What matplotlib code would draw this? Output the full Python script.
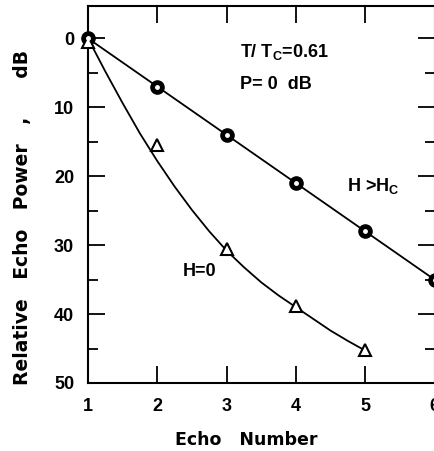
import matplotlib.pyplot as plt
from matplotlib.ticker import MultipleLocator

plt.rcParams['font.family'] = ['Liberation Sans', 'DejaVu Sans']
plt.rcParams['font.weight'] = 'bold'
plt.rcParams['mathtext.fontset'] = 'custom'
plt.rcParams['mathtext.rm'] = 'Liberation Sans:bold'
plt.rcParams['mathtext.bf'] = 'Liberation Sans:bold'

# data
echo_n = [1, 2, 3, 4, 5, 6]
power_hc = [0, 7, 14, 21, 28, 35]          # H > Hc, circles

tri_n = [1, 2, 3, 4, 5]
power_h0 = [0.5, 15.5, 30.6, 38.8, 45.2]    # H = 0, triangles

# hand-drawn curve through the H = 0 points (traced)
curve_n = [1.0, 1.25, 1.5, 1.75, 2.0, 2.25, 2.5, 2.75, 3.0, 3.25, 3.5, 3.75, 4.0, 4.25, 4.5, 4.75, 5.0]
curve_p = [0, 4.8, 9.4, 13.8, 17.8, 21.5, 24.9, 28.0, 30.8, 33.2, 35.4, 37.3, 39.0, 40.7, 42.4, 43.9, 45.3]

fig = plt.figure(figsize=(4.35, 4.51), dpi=100)
ax = fig.add_axes([0.2023, 0.1508, 0.7966, 0.8359])

ax.plot(echo_n, power_hc, color='black', lw=1.3, zorder=2)
ax.plot(echo_n, power_hc, 'o', ms=9.5, mfc='black', mec='black', zorder=3, clip_on=False)
ax.plot(echo_n, power_hc, 'o', ms=2.5, mfc='white', mec='white', zorder=4, clip_on=False)

ax.plot(curve_n, curve_p, color='black', lw=1.3, zorder=2, solid_joinstyle='round')
ax.plot(tri_n, power_h0, '^', ms=9, mfc='white', mec='black', mew=1.5, zorder=3, clip_on=False)

ax.set_xlim(1, 6)
ax.set_ylim(50, -4.7)
ax.xaxis.set_major_locator(MultipleLocator(1))
ax.yaxis.set_major_locator(MultipleLocator(10))
ax.yaxis.set_minor_locator(MultipleLocator(5))

ax.tick_params(axis='both', which='major', direction='in', length=12, width=1.3,
               labelsize=13, top=True, right=True)
ax.tick_params(axis='y', which='minor', direction='in', length=7.5, width=1.3, right=True)
ax.tick_params(axis='x', pad=11)
ax.tick_params(axis='y', pad=10)
for lab in ax.get_xticklabels() + ax.get_yticklabels():
    lab.set_fontweight('bold')
for s in ax.spines.values():
    s.set_linewidth(1.5)

ax.set_xlabel('Echo   Number', fontsize=12.5, fontweight='bold', family='DejaVu Sans')
ax.xaxis.set_label_coords(0.456, -0.128)
ax.set_ylabel('Relative   Echo   Power   ,      dB', fontsize=13.5, fontweight='bold',
              family='DejaVu Sans')
ax.yaxis.set_label_coords(-0.162, 0.44)

ax.text(3.19, 2.7, r'T/ T$_\mathbf{C}$=0.61', fontsize=13, fontweight='bold', va='baseline')
ax.text(3.19, 7.4, 'P= 0  dB', fontsize=13, fontweight='bold', va='baseline')
ax.text(4.74, 22.2, r'H >H$_\mathbf{C}$', fontsize=13, fontweight='bold', va='baseline')
ax.text(2.36, 34.5, 'H=0', fontsize=13, fontweight='bold', va='baseline')

fig.savefig('out.png', dpi=100)
